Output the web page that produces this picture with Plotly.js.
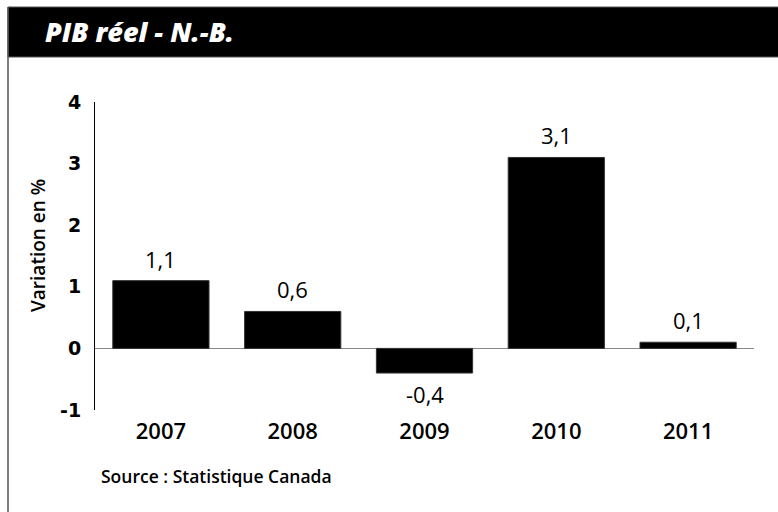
<!DOCTYPE html>
<html><head><meta charset="utf-8">
<script src="https://cdn.plot.ly/plotly-3.0.1.min.js"></script>
<style>html,body{margin:0;padding:0;background:#fff}#chart{width:778px;height:512px}</style>
</head><body><div id="chart"></div>
<script>
const years = ['2007', '2008', '2009', '2010', '2011'];
const values = [1.1, 0.6, -0.4, 3.1, 0.1];
const yTicks = [-1, 0, 1, 2, 3, 4];
const yTickText = ['-1', '0', '1', '2', '3', '4'];
const titleText = 'PIB réel - N.-B.';
const yTitleText = 'Variation en %';
const sourceText = 'Source : Statistique Canada';

const W = 778, H = 512, L = 95, R = 24, T = 102, B = 102;
const pw = W - L - R, ph = H - T - B;
function px(x) { return (x - L) / pw; }
function py(y) { return (H - B - y) / ph; }
function fmt(v) { return v.toFixed(1).replace('.', ','); }

const main = 'Open Sans, Noto Sans, sans-serif';

const dataLabels = values.map((v, i) => ({
  x: i, y: v, xref: 'x', yref: 'y',
  text: fmt(v), showarrow: false,
  xanchor: 'center',
  yanchor: v >= 0 ? 'bottom' : 'top',
  yshift: v >= 0 ? 5 : -4,
  font: {family: main, size: 22, color: '#000', weight: 500}
}));

const trace = {
  type: 'bar', x: years, y: values,
  marker: {color: '#000', line: {color: '#333', width: 1}},
  hoverinfo: 'none'
};

const layout = {
  width: W, height: H,
  margin: {l: L, r: R, t: T, b: B, pad: 0},
  paper_bgcolor: '#fff', plot_bgcolor: '#fff',
  showlegend: false,
  bargap: 0.27,
  title: {
    text: titleText, xref: 'container', yref: 'container',
    x: 45 / W, xanchor: 'left', y: 1 - 33 / H, yanchor: 'middle',
    font: {family: main, size: 27, color: '#fff', weight: 800, style: 'italic'}
  },
  xaxis: {
    type: 'category', range: [-0.5, 4.5], showline: false, showgrid: false,
    zeroline: false, ticks: '', ticklabelstandoff: 6,
    tickfont: {family: main, size: 22, color: '#000', weight: 600}
  },
  yaxis: {
    range: [-1, 4], tickvals: yTicks, ticktext: yTickText,
    showline: true, linecolor: '#000', linewidth: 1,
    showgrid: false, zeroline: true, zerolinecolor: '#888', zerolinewidth: 1.5,
    ticks: '', ticklabelstandoff: 9,
    tickfont: {family: 'DejaVu Sans, sans-serif', size: 19, color: '#000', weight: 'bold'}
  },
  shapes: [
    {type: 'rect', xref: 'paper', yref: 'paper', x0: px(8), x1: px(782), y0: py(57), y1: py(7),
     fillcolor: '#000', line: {color: '#555', width: 1}, layer: 'above'},
    {type: 'line', xref: 'paper', yref: 'paper', x0: px(8), x1: px(8), y0: py(7), y1: py(515),
     line: {color: '#555', width: 1.5}, layer: 'above'}
  ],
  annotations: dataLabels.concat([
    {xref: 'paper', yref: 'paper', x: px(38), y: py(246), text: yTitleText, textangle: -90,
     showarrow: false, xanchor: 'center', yanchor: 'middle',
     font: {family: main, size: 19, color: '#000', weight: 600}},
    {xref: 'paper', yref: 'paper', x: px(99), y: py(476), text: sourceText,
     showarrow: false, xanchor: 'left', yanchor: 'middle',
     font: {family: main, size: 17.5, color: '#000', weight: 600}}
  ])
};

Plotly.newPlot('chart', [trace], layout, {displayModeBar: false, staticPlot: true});
</script></body></html>
